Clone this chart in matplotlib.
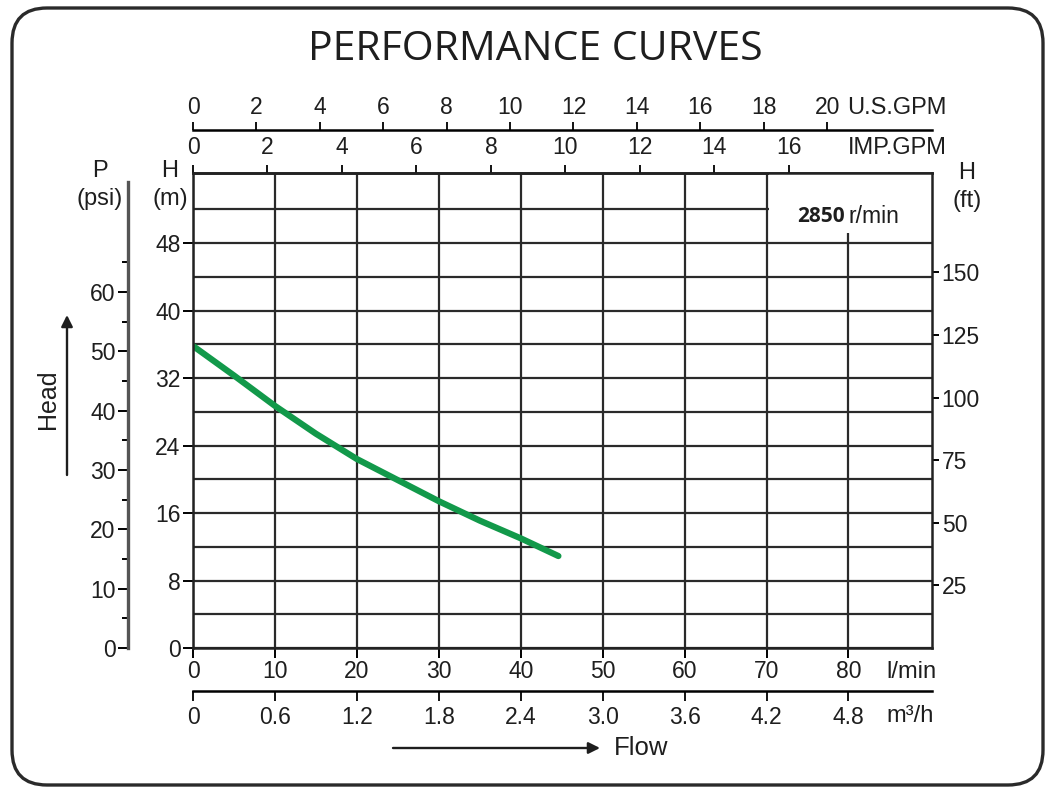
"""Pump performance curve: head vs flow with unit conversion scales."""
import matplotlib

matplotlib.use("Agg")
import matplotlib.pyplot as plt
from matplotlib.patches import FancyBboxPatch, Rectangle

W_PX, H_PX = 1045, 787
DPI = 100

# curve (flow in l/min, head in m)
flow_lpm = [0, 5, 10, 15, 20, 25, 30, 35, 40, 44.6]
head_m = [35.8, 32.3, 28.7, 25.4, 22.4, 19.9, 17.4, 15.1, 13.0, 10.9]

lpm_ticks = [0, 10, 20, 30, 40, 50, 60, 70, 80]
m3h_ticks = [0, 0.6, 1.2, 1.8, 2.4, 3.0, 3.6, 4.2, 4.8]
m3h_labels = ["0", "0.6", "1.2", "1.8", "2.4", "3.0", "3.6", "4.2", "4.8"]
usgpm_ticks = [0, 2, 4, 6, 8, 10, 12, 14, 16, 18, 20]
impgpm_ticks = [0, 2, 4, 6, 8, 10, 12, 14, 16]
head_m_ticks = [0, 8, 16, 24, 32, 40, 48]
head_m_minor = [4, 12, 20, 28, 36, 44, 52]
psi_ticks = [0, 10, 20, 30, 40, 50, 60]
psi_minor = [5, 15, 25, 35, 45, 55, 65]
ft_ticks = [25, 50, 75, 100, 125, 150]

# conversion factors as the printed scales use them
LPM_PER_USGPM = 3.87
LPM_PER_IMPGPM = 4.546
M3H_PER_LPM = 0.06
PSI_PER_M = 1.4223
FT_PER_M = 3.37

XMAX, YMAX = 90.2, 56.3
INK = "#1e1e1e"
GRID = "#2a2a2a"
CURVE = "#12994a"
TICK_FONT = "Liberation Sans"
FS = 16.5
UFS = 17


def fx(px):
    return px / W_PX


def fy(py):
    return 1 - py / H_PX


fig = plt.figure(figsize=(W_PX / DPI, H_PX / DPI), dpi=DPI)
plt.rcParams["font.family"] = TICK_FONT

left, right, top, bottom = 193, 932, 173, 648
ax = fig.add_axes([fx(left), fy(bottom), (right - left) / W_PX, (bottom - top) / H_PX])
ax.set_xlim(0, XMAX)
ax.set_ylim(0, YMAX)
ax.set_axisbelow(True)

ax.set_xticks(lpm_ticks)
ax.set_yticks(head_m_ticks)
ax.set_yticks(head_m_minor, minor=True)
ax.tick_params(axis="both", which="major", direction="out", length=7, width=1.4,
               labelsize=FS, colors="black", labelcolor=INK, pad=4)
ax.tick_params(axis="y", which="minor", length=0)
ax.tick_params(axis="y", which="major", pad=2)
ax.tick_params(axis="x", which="major", pad=2)
ax.grid(True, which="both", color=GRID, linewidth=1.6)
for sp in ax.spines.values():
    sp.set_linewidth(1.8)
    sp.set_color("#222222")

# white label box in the upper-right corner hides the grid there
ax.add_patch(Rectangle((70.3, 49.2), XMAX - 70.3, YMAX - 49.2,
                       facecolor="white", edgecolor="none", zorder=1))
ax.text(79.6, 51.2, "2850", family="Open Sans", fontweight="bold", fontsize=15,
        ha="right", va="center", color=INK, zorder=3)
ax.text(80.0, 51.2, "r/min", fontsize=16.5, ha="left", va="center", color=INK, zorder=3)

ax.plot(flow_lpm, head_m, color=CURVE, linewidth=4.5, solid_capstyle="round", zorder=2)

# top scales
imp = ax.secondary_xaxis("top", functions=(lambda q: q / LPM_PER_IMPGPM,
                                           lambda g: g * LPM_PER_IMPGPM))
imp.set_xticks(impgpm_ticks)
imp.tick_params(direction="out", length=6, width=1.3, labelsize=FS, labelcolor=INK, pad=4)
imp.spines["top"].set_linewidth(1.8)

us = ax.secondary_xaxis(1 + (top - 130) / (bottom - top),
                        functions=(lambda q: q / LPM_PER_USGPM,
                                   lambda g: g * LPM_PER_USGPM))
us.set_xticks(usgpm_ticks)
us.tick_params(direction="out", length=6, width=1.3, labelsize=FS, labelcolor=INK, pad=2)
us.spines["top"].set_linewidth(1.8)

# bottom m3/h scale
m3h = ax.secondary_xaxis(-(691 - bottom) / (bottom - top),
                         functions=(lambda q: q * M3H_PER_LPM,
                                    lambda v: v / M3H_PER_LPM))
m3h.set_xticks(m3h_ticks, labels=m3h_labels)
m3h.tick_params(direction="out", length=7, width=1.3, labelsize=FS, labelcolor=INK, pad=4)
m3h.spines["bottom"].set_linewidth(1.8)

# left psi scale
psi = ax.secondary_yaxis(-(left - 128) / (right - left),
                         functions=(lambda h: h * PSI_PER_M, lambda p: p / PSI_PER_M))
psi.set_yticks(psi_ticks)
psi.set_yticks(psi_minor, minor=True)
psi.tick_params(which="major", direction="out", length=7, width=1.4,
                labelsize=FS, labelcolor=INK, pad=2)
psi.tick_params(which="minor", direction="out", length=4, width=1.4)
psi.spines["left"].set_linewidth(2.4)
psi.spines["left"].set_color("#555555")
psi.spines["left"].set_bounds(0, 78.5)

# right ft scale
ft = ax.secondary_yaxis("right", functions=(lambda h: h * FT_PER_M, lambda f: f / FT_PER_M))
ft.set_yticks(ft_ticks)
ft.tick_params(direction="out", length=5, width=1.4, labelsize=FS, labelcolor=INK, pad=2)
ft.spines["right"].set_visible(False)

# unit labels
unit_kw = dict(fontsize=UFS, color=INK, va="center")
fig.text(fx(947), fy(108), "U.S.GPM", ha="right", **unit_kw)
fig.text(fx(947), fy(148), "IMP.GPM", ha="right", **unit_kw)
fig.text(fx(911), fy(672), "l/min", ha="center", **unit_kw)
fig.text(fx(910), fy(716), "m³/h", ha="center", **unit_kw)
fig.text(fx(100), fy(171), "P", ha="center", **unit_kw)
fig.text(fx(100), fy(199), "(psi)", ha="center", **unit_kw)
fig.text(fx(170), fy(171), "H", ha="center", **unit_kw)
fig.text(fx(170), fy(199), "(m)", ha="center", **unit_kw)
fig.text(fx(967), fy(173), "H", ha="center", **unit_kw)
fig.text(fx(967), fy(201), "(ft)", ha="center", **unit_kw)

fig.text(fx(535), fy(50), "PERFORMANCE CURVES", family="Open Sans", fontsize=29.5,
         ha="center", va="center", color=INK)

# direction arrows
arrow_kw = dict(arrowstyle="-|>", color=INK, lw=1.7, mutation_scale=17,
                shrinkA=0, shrinkB=0)
ax.annotate("", xy=(67, H_PX - 315), xytext=(67, H_PX - 475),
            xycoords="figure pixels", textcoords="figure pixels", arrowprops=arrow_kw)
fig.text(fx(48), fy(399), "Head", rotation=90, ha="center", va="center",
         fontsize=18, color=INK)
ax.annotate("", xy=(600, H_PX - 748), xytext=(393, H_PX - 748),
            xycoords="figure pixels", textcoords="figure pixels", arrowprops=arrow_kw)
fig.text(fx(614), fy(748), "Flow", ha="left", va="center", fontsize=18.5, color=INK)

# rounded frame around the whole card
frame = FancyBboxPatch((0.12, 0.02), 10.31, 7.77,
                       boxstyle="round,pad=0,rounding_size=0.35",
                       transform=fig.dpi_scale_trans, facecolor="none",
                       edgecolor="#2a2a2a", linewidth=2.4)
fig.add_artist(frame)

fig.savefig("out.png", dpi=DPI)
